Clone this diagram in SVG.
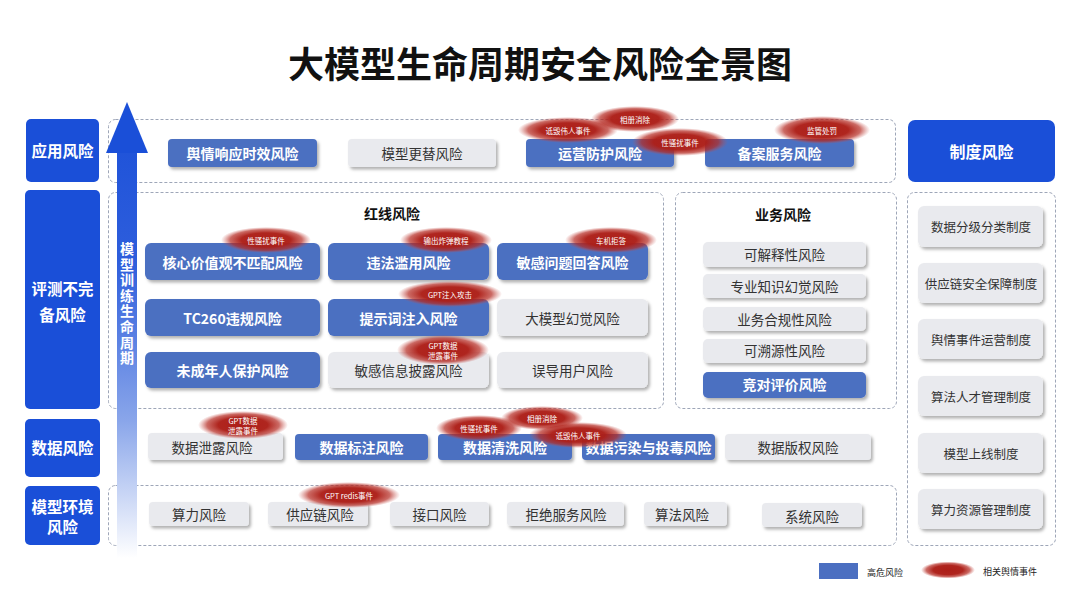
<svg xmlns="http://www.w3.org/2000/svg" width="1080" height="594" viewBox="0 0 1080 594">
<defs>
<style>
text{font-family:'Noto Sans CJK SC','Noto Sans',sans-serif;text-anchor:middle;dominant-baseline:central}
.cat{fill:#1a4fd8}
.catt{fill:#fff;font-weight:700;font-size:15.5px}
.box{fill:none;stroke:#9ea6b8;stroke-width:1;stroke-dasharray:3 2}
.hb{fill:#4b6fc1;filter:url(#sh)}
.gr{fill:#e9eaee;filter:url(#sh)}
.tb{fill:#fff;font-weight:700;font-size:14px}
.tg{fill:#333;font-size:13.5px}
.tr{fill:#333;font-size:12.5px}
.sec{fill:#111;font-weight:700;font-size:14px}
.ev{fill:url(#evg)}
.evt{fill:#fff;font-size:7.5px}
.lg{fill:#222;font-size:9px;text-anchor:start}
</style>
<filter id="sh" x="-10%" y="-20%" width="125%" height="150%">
<feDropShadow dx="2" dy="2.5" stdDeviation="1.6" flood-color="#000" flood-opacity="0.3"/>
</filter>
<radialGradient id="evg" cx="0.5" cy="0.5" r="0.5">
<stop offset="0" stop-color="#ad1f18" stop-opacity="1"/>
<stop offset="0.55" stop-color="#ad1f18" stop-opacity="0.97"/>
<stop offset="0.8" stop-color="#b52a22" stop-opacity="0.7"/>
<stop offset="1" stop-color="#c8504a" stop-opacity="0"/>
</radialGradient>
<linearGradient id="arr" x1="0" y1="102" x2="0" y2="558" gradientUnits="userSpaceOnUse">
<stop offset="0" stop-color="#1a4fd8"/>
<stop offset="0.35" stop-color="#2e5edc"/>
<stop offset="0.7" stop-color="#8aa6ea"/>
<stop offset="1" stop-color="#ffffff"/>
</linearGradient>
</defs>
<rect width="1080" height="594" fill="#fff"/>
<text x="540" y="62" style="font-size:36px;font-weight:700;fill:#111">大模型生命周期安全风险全景图</text>

<!-- category column -->
<g id="cat-app"><rect class="cat" x="26" y="119" width="73" height="63" rx="5"/><text class="catt" x="62.5" y="150">应用风险</text></g>
<g id="cat-eval"><rect class="cat" x="25" y="190" width="75" height="219" rx="5"/><text class="catt" x="62.5" y="288">评测不完</text><text class="catt" x="62.5" y="314">备风险</text></g>
<g id="cat-data"><rect class="cat" x="25" y="419" width="75" height="58" rx="5"/><text class="catt" x="62.5" y="447">数据风险</text></g>
<g id="cat-env"><rect class="cat" x="25" y="486" width="75" height="59" rx="5"/><text class="catt" x="62.5" y="506">模型环境</text><text class="catt" x="62.5" y="526">风险</text></g>
<g id="cat-system"><rect class="cat" x="908" y="120" width="147" height="62" rx="7"/><text class="catt" x="981.5" y="151" style="font-size:16px">制度风险</text></g>

<!-- containers -->
<g id="containers">
<rect class="box" x="108.5" y="119.5" width="787" height="63" rx="7"/>
<rect class="box" x="108.5" y="192.5" width="555" height="216" rx="7"/>
<rect class="box" x="675.5" y="192.5" width="221" height="216" rx="7"/>
<rect class="box" x="108.5" y="485.5" width="788" height="60" rx="7"/>
<rect class="box" x="907.5" y="192.5" width="148" height="353" rx="7"/>
<text class="sec" x="392" y="213">红线风险</text>
<text class="sec" x="783" y="214">业务风险</text>
</g>

<!-- lifecycle arrow -->
<g id="lifecycle-arrow">
<rect x="117" y="152" width="20" height="406" fill="url(#arr)"/>
<polygon points="127,102 148,153 106,153" fill="#1a4fd8"/>
<text x="127" y="304" writing-mode="vertical-rl" style="fill:#fff;font-weight:700;font-size:14px;letter-spacing:1.6px">模型训练生命周期</text>
</g>

<!-- application row -->
<g id="n-yuqing"><rect class="hb" x="168" y="139" width="149" height="28" rx="4"/><text class="tb" x="242.5" y="153">舆情响应时效风险</text></g>
<g id="n-gengti"><rect class="gr" x="348" y="139" width="148" height="28" rx="4"/><text class="tg" x="422" y="153">模型更替风险</text></g>
<g id="n-yunying"><rect class="hb" x="526" y="139" width="148" height="28" rx="4"/><text class="tb" x="600" y="153">运营防护风险</text></g>
<g id="n-beian"><rect class="hb" x="705" y="139" width="149" height="28" rx="4"/><text class="tb" x="779.5" y="153">备案服务风险</text></g>

<!-- red line -->
<g id="n-hexin"><rect class="hb" x="145" y="243" width="175" height="37" rx="6"/><text class="tb" x="232.5" y="262">核心价值观不匹配风险</text></g>
<g id="n-weifa"><rect class="hb" x="328" y="243" width="161" height="37" rx="6"/><text class="tb" x="408.5" y="262">违法滥用风险</text></g>
<g id="n-mingan"><rect class="hb" x="497" y="243" width="151" height="37" rx="6"/><text class="tb" x="572.5" y="262">敏感问题回答风险</text></g>
<g id="n-tc260"><rect class="hb" x="145" y="299" width="175" height="37" rx="6"/><text class="tb" x="232.5" y="318">TC260违规风险</text></g>
<g id="n-tishici"><rect class="hb" x="328" y="299" width="161" height="37" rx="6"/><text class="tb" x="408.5" y="318">提示词注入风险</text></g>
<g id="n-huanjue"><rect class="gr" x="497" y="299" width="151" height="37" rx="6"/><text class="tg" x="572.5" y="318">大模型幻觉风险</text></g>
<g id="n-weichengnian"><rect class="hb" x="145" y="352" width="175" height="36" rx="6"/><text class="tb" x="232.5" y="370">未成年人保护风险</text></g>
<g id="n-xinxi"><rect class="gr" x="328" y="352" width="161" height="36" rx="6"/><text class="tg" x="408.5" y="370">敏感信息披露风险</text></g>
<g id="n-wudao"><rect class="gr" x="497" y="352" width="151" height="36" rx="6"/><text class="tg" x="572.5" y="370">误导用户风险</text></g>

<!-- business -->
<g id="n-jieshi"><rect class="gr" x="703" y="242" width="163" height="25" rx="5"/><text class="tg" x="784.5" y="254">可解释性风险</text></g>
<g id="n-zhuanye"><rect class="gr" x="703" y="274" width="163" height="24" rx="5"/><text class="tg" x="784.5" y="286">专业知识幻觉风险</text></g>
<g id="n-hegui"><rect class="gr" x="703" y="307" width="163" height="24" rx="5"/><text class="tg" x="784.5" y="319">业务合规性风险</text></g>
<g id="n-suyuan"><rect class="gr" x="703" y="339" width="163" height="24" rx="5"/><text class="tg" x="784.5" y="350">可溯源性风险</text></g>
<g id="n-jingdui"><rect class="hb" x="703" y="372" width="163" height="26" rx="5"/><text class="tb" x="784.5" y="384">竞对评价风险</text></g>

<!-- data row -->
<g id="n-xielu"><rect class="gr" x="148" y="433" width="135" height="27" rx="4"/><text class="tg" x="212" y="447">数据泄露风险</text></g>
<g id="n-biaozhu"><rect class="hb" x="295" y="434" width="133" height="26" rx="4"/><text class="tb" x="361.5" y="447">数据标注风险</text></g>
<g id="n-qingxi"><rect class="hb" x="438" y="434" width="134" height="26" rx="4"/><text class="tb" x="505" y="447">数据清洗风险</text></g>
<g id="n-wuran"><rect class="hb" x="582" y="434" width="133" height="26" rx="4"/><text class="tb" x="648.5" y="447">数据污染与投毒风险</text></g>
<g id="n-banquan"><rect class="gr" x="725" y="434" width="146" height="26" rx="4"/><text class="tg" x="798" y="447">数据版权风险</text></g>

<!-- env row -->
<g id="n-suanli"><rect class="gr" x="149" y="502" width="100" height="24" rx="4"/><text class="tg" x="199" y="514">算力风险</text></g>
<g id="n-gongying"><rect class="gr" x="268" y="502" width="100" height="24" rx="4"/><text class="tg" x="320" y="514">供应链风险</text></g>
<g id="n-jiekou"><rect class="gr" x="390" y="502" width="99" height="24" rx="4"/><text class="tg" x="439.5" y="514">接口风险</text></g>
<g id="n-jujue"><rect class="gr" x="507" y="502" width="117" height="24" rx="4"/><text class="tg" x="566" y="514">拒绝服务风险</text></g>
<g id="n-suanfa"><rect class="gr" x="644" y="502" width="83" height="24" rx="4"/><text class="tg" x="682" y="514">算法风险</text></g>
<g id="n-xitong"><rect class="gr" x="762" y="503" width="100" height="24" rx="4"/><text class="tg" x="812" y="516">系统风险</text></g>

<!-- system column -->
<g id="n-fenji"><rect class="gr" x="918" y="206" width="125" height="41" rx="6"/><text class="tr" x="981" y="226">数据分级分类制度</text></g>
<g id="n-gongyinglian"><rect class="gr" x="918" y="263" width="125" height="40" rx="6"/><text class="tr" x="981" y="283">供应链安全保障制度</text></g>
<g id="n-yuqingzhidu"><rect class="gr" x="918" y="319" width="125" height="40" rx="6"/><text class="tr" x="981" y="339">舆情事件运营制度</text></g>
<g id="n-rencai"><rect class="gr" x="918" y="376" width="125" height="40" rx="6"/><text class="tr" x="981" y="396">算法人才管理制度</text></g>
<g id="n-shangxian"><rect class="gr" x="918" y="433" width="125" height="40" rx="6"/><text class="tr" x="981" y="453">模型上线制度</text></g>
<g id="n-ziyuan"><rect class="gr" x="918" y="489" width="125" height="40" rx="6"/><text class="tr" x="981" y="509">算力资源管理制度</text></g>

<!-- events -->
<g id="events">
<g id="e1"><ellipse class="ev" cx="568" cy="130" rx="50" ry="13"/><text class="evt" x="568" y="130">诋毁伟人事件</text></g>
<g id="e2"><ellipse class="ev" cx="635" cy="119" rx="44" ry="13"/><text class="evt" x="635" y="119">相册消除</text></g>
<g id="e3"><ellipse class="ev" cx="680" cy="142" rx="48" ry="14"/><text class="evt" x="680" y="142">性骚扰事件</text></g>
<g id="e4"><ellipse class="ev" cx="822" cy="130" rx="48" ry="14"/><text class="evt" x="822" y="130">监管处罚</text></g>
<g id="e5"><ellipse class="ev" cx="266" cy="240" rx="45" ry="13"/><text class="evt" x="266" y="240">性骚扰事件</text></g>
<g id="e6"><ellipse class="ev" cx="446" cy="240" rx="46" ry="13"/><text class="evt" x="446" y="240">输出炸弹教程</text></g>
<g id="e7"><ellipse class="ev" cx="611" cy="240" rx="46" ry="13"/><text class="evt" x="611" y="240">车机拒答</text></g>
<g id="e8"><ellipse class="ev" cx="450" cy="294" rx="52" ry="13"/><text class="evt" x="450" y="294">GPT注入攻击</text></g>
<g id="e9"><ellipse class="ev" cx="443" cy="350" rx="46" ry="15"/><text class="evt" x="443" y="345">GPT数据</text><text class="evt" x="443" y="355">泄露事件</text></g>
<g id="e10"><ellipse class="ev" cx="243" cy="425" rx="45" ry="14"/><text class="evt" x="243" y="420">GPT数据</text><text class="evt" x="243" y="430">泄露事件</text></g>
<g id="e11"><ellipse class="ev" cx="479" cy="428" rx="43" ry="13"/><text class="evt" x="479" y="428">性骚扰事件</text></g>
<g id="e12"><ellipse class="ev" cx="542" cy="418" rx="41" ry="12"/><text class="evt" x="542" y="418">相册消除</text></g>
<g id="e13"><ellipse class="ev" cx="578" cy="435" rx="49" ry="13"/><text class="evt" x="578" y="435">诋毁伟人事件</text></g>
<g id="e14"><ellipse class="ev" cx="349" cy="495" rx="51" ry="13"/><text class="evt" x="349" y="495">GPT redis事件</text></g>
</g>

<!-- legend -->
<g id="legend">
<rect x="819" y="563" width="39" height="16" fill="#4b6fc1"/>
<text class="lg" x="867" y="572">高危风险</text>
<ellipse class="ev" cx="948" cy="570" rx="27" ry="8.5"/>
<text class="lg" x="983" y="571">相关舆情事件</text>
</g>
</svg>
